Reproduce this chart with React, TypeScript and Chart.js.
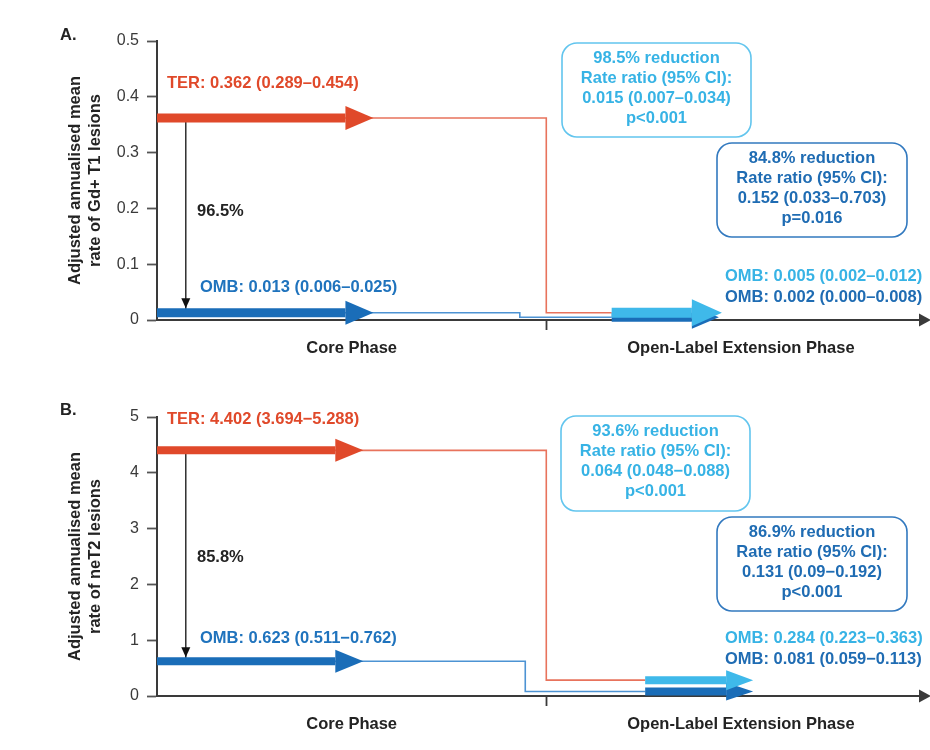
import React, { useEffect, useRef } from 'react';
import { Chart, registerables } from 'chart.js';

Chart.register(...registerables);

const FONT = '"Liberation Sans", Arial, Helvetica, sans-serif';

// ---------- shared x scale (abstract time: core phase | open-label extension) ----------
const X_MAX = 98;
const PHASE_BOUNDARY = 50;
const xTickValues = [25, PHASE_BOUNDARY, 75];
const xTickLabels = ['Core Phase', '', 'Open-Label Extension Phase'];

// ---------- Panel A: Gd+ T1 lesions ----------
const aYMax = 0.5;
const aYStep = 0.1;
const aTitle = ['Adjusted annualised mean', 'rate of Gd+ T1 lesions'];
const aCoreRates = [0.362, 0.013]; // [TER, OMB] core phase
const aOleRates = [0.013, 0.005]; // [TER→OMB, OMB→OMB] level as drawn in OLE
const aDropX = [PHASE_BOUNDARY, 46.6];
const aCoreArrowEnd = [24.2, 24.2];
const aOleArrow = [58.4, 68.7];
const aReductionX = 3.7;
const aCoreLabels = ['TER: 0.362 (0.289–0.454)', 'OMB: 0.013 (0.006–0.025)'];
const aReduction = '96.5%';
const aOleLabels = ['OMB: 0.005 (0.002–0.012)', 'OMB: 0.002 (0.000–0.008)'];
const aBoxLight = ['98.5% reduction', 'Rate ratio (95% CI):', '0.015 (0.007–0.034)', 'p<0.001'];
const aBoxDark = ['84.8% reduction', 'Rate ratio (95% CI):', '0.152 (0.033–0.703)', 'p=0.016'];

// ---------- Panel B: neT2 lesions ----------
const bYMax = 5;
const bYStep = 1;
const bTitle = ['Adjusted annualised mean', 'rate of neT2 lesions'];
const bCoreRates = [4.402, 0.623];
const bOleRates = [0.284, 0.081];
const bDropX = [PHASE_BOUNDARY, 47.3];
const bCoreArrowEnd = [22.9, 22.9];
const bOleArrow = [62.7, 73.1];
const bReductionX = 3.7;
const bCoreLabels = ['TER: 4.402 (3.694−5.288)', 'OMB: 0.623 (0.511−0.762)'];
const bReduction = '85.8%';
const bOleLabels = ['OMB: 0.284 (0.223−0.363)', 'OMB: 0.081 (0.059−0.113)'];
const bBoxLight = ['93.6% reduction', 'Rate ratio (95% CI):', '0.064 (0.048−0.088)', 'p<0.001'];
const bBoxDark = ['86.9% reduction', 'Rate ratio (95% CI):', '0.131 (0.09−0.192)', 'p<0.001'];

// ---------- colours ----------
const C = {
  ter: '#e0492a',
  terThin: '#e8735c',
  omb: '#1a6db8',
  ombThin: '#4d93d3',
  light: '#3fb9ea',
  lightText: '#37b3e5',
  darkText: '#1f6cb3',
  lightBorder: '#62c5ee',
  darkBorder: '#3279bf',
  axis: '#3a3a3a',
  text: '#232323',
};

type Panel = {
  letter: string;
  yMax: number;
  yStep: number;
  title: string[];
  core: number[];
  ole: number[];
  dropX: number[];
  coreEnd: number[];
  oleArrow: number[];
  redX: number;
  coreLabels: string[];
  reduction: string;
  oleLabels: string[];
  boxLight: string[];
  boxDark: string[];
  layout: any;
  style: any;
};

const panels: Panel[] = [
  {
    letter: 'A.', yMax: aYMax, yStep: aYStep, title: aTitle, core: aCoreRates, ole: aOleRates,
    dropX: aDropX, coreEnd: aCoreArrowEnd, oleArrow: aOleArrow, redX: aReductionX,
    coreLabels: aCoreLabels, reduction: aReduction, oleLabels: aOleLabels, boxLight: aBoxLight, boxDark: aBoxDark,
    layout: {
      letter: [60, 35], ter: [167, 83], omb: [200, 287], red: [197, 211],
      box1: [562, 43, 189, 94], box2: [717, 143, 190, 94], ole: [725, 276, 297],
    },
    style: { coreShaft: 9, coreHead: [28, 12], lightShaft: 10, lightHead: [30, 13.5], darkShaft: 9, darkHead: [27, 11.5] },
  },
  {
    letter: 'B.', yMax: bYMax, yStep: bYStep, title: bTitle, core: bCoreRates, ole: bOleRates,
    dropX: bDropX, coreEnd: bCoreArrowEnd, oleArrow: bOleArrow, redX: bReductionX,
    coreLabels: bCoreLabels, reduction: bReduction, oleLabels: bOleLabels, boxLight: bBoxLight, boxDark: bBoxDark,
    layout: {
      letter: [60, 34], ter: [167, 43], omb: [200, 262], red: [197, 181],
      box1: [561, 40, 189, 95], box2: [717, 141, 190, 94], ole: [725, 262, 283],
    },
    style: { coreShaft: 8, coreHead: [28, 11.5], lightShaft: 8, lightHead: [27, 10], darkShaft: 8, darkHead: [27, 9] },
  },
];

function buildDatasets(p: Panel): any[] {
  const [ter, omb] = p.core;
  const [terOle, ombOle] = p.ole;
  const s = p.style;
  const base = { pointRadius: 0, pointHoverRadius: 0, clip: false as any, fill: false, tension: 0 };
  return [
    {
      ...base, label: 'TER → OMB (thin)', order: 10, stepped: true, borderColor: C.terThin, borderWidth: 1.6,
      data: [{ x: 0, y: ter }, { x: p.dropX[0], y: terOle }, { x: p.oleArrow[0], y: terOle }],
    },
    {
      ...base, label: 'OMB → OMB (thin)', order: 9, stepped: true, borderColor: C.ombThin, borderWidth: 1.6,
      data: [{ x: 0, y: omb }, { x: p.dropX[1], y: ombOle }, { x: p.oleArrow[0], y: ombOle }],
    },
    {
      ...base, label: 'reduction', order: 8, borderColor: '#111', borderWidth: 1.3,
      data: [{ x: p.redX, y: ter }, { x: p.redX, y: omb }],
      arrowHead: { len: 10, half: 4.5, tipOffset: -s.coreShaft / 2 },
    },
    {
      ...base, label: 'TER core', order: 5, borderColor: C.ter, borderWidth: s.coreShaft,
      data: [{ x: 0, y: ter }, { x: p.coreEnd[0], y: ter }],
      arrowHead: { len: s.coreHead[0], half: s.coreHead[1], tipOffset: s.coreHead[0] },
    },
    {
      ...base, label: 'OMB core', order: 4, borderColor: C.omb, borderWidth: s.coreShaft,
      data: [{ x: 0, y: omb }, { x: p.coreEnd[1], y: omb }],
      arrowHead: { len: s.coreHead[0], half: s.coreHead[1], tipOffset: s.coreHead[0] },
    },
    {
      ...base, label: 'OMB → OMB OLE', order: 3, borderColor: C.omb, borderWidth: s.darkShaft,
      data: [{ x: p.oleArrow[0], y: ombOle }, { x: p.oleArrow[1], y: ombOle }],
      arrowHead: { len: s.darkHead[0], half: s.darkHead[1], tipOffset: s.darkHead[0] },
    },
    {
      ...base, label: 'TER → OMB OLE', order: 2, borderColor: C.light, borderWidth: s.lightShaft,
      data: [{ x: p.oleArrow[0], y: terOle }, { x: p.oleArrow[1], y: terOle }],
      arrowHead: { len: s.lightHead[0], half: s.lightHead[1], tipOffset: s.lightHead[0] },
    },
  ];
}

const arrowPlugin = {
  id: 'arrowHeads',
  afterDatasetDraw(chart: any, args: any) {
    const ds = chart.data.datasets[args.index];
    const h = ds && ds.arrowHead;
    if (!h) return;
    const pts = args.meta.data;
    if (!pts || pts.length < 2) return;
    const p = pts[pts.length - 1];
    const q = pts[pts.length - 2];
    const dx = p.x - q.x;
    const dy = p.y - q.y;
    const L = Math.hypot(dx, dy) || 1;
    const ux = dx / L;
    const uy = dy / L;
    const tx = p.x + ux * h.tipOffset;
    const ty = p.y + uy * h.tipOffset;
    const bx = tx - ux * h.len;
    const by = ty - uy * h.len;
    const nx = -uy;
    const ny = ux;
    const ctx = chart.ctx;
    ctx.save();
    ctx.fillStyle = ds.borderColor;
    ctx.beginPath();
    ctx.moveTo(tx, ty);
    ctx.lineTo(bx + nx * h.half, by + ny * h.half);
    ctx.lineTo(bx - nx * h.half, by - ny * h.half);
    ctx.closePath();
    ctx.fill();
    ctx.restore();
  },
};

function roundRect(ctx: CanvasRenderingContext2D, x: number, y: number, w: number, h: number, r: number) {
  ctx.beginPath();
  ctx.moveTo(x + r, y);
  ctx.lineTo(x + w - r, y);
  ctx.arcTo(x + w, y, x + w, y + r, r);
  ctx.lineTo(x + w, y + h - r);
  ctx.arcTo(x + w, y + h, x + w - r, y + h, r);
  ctx.lineTo(x + r, y + h);
  ctx.arcTo(x, y + h, x, y + h - r, r);
  ctx.lineTo(x, y + r);
  ctx.arcTo(x, y, x + r, y, r);
  ctx.closePath();
}

function makeOverlay(p: Panel) {
  return {
    id: 'overlay' + p.letter,
    afterDraw(chart: any) {
      const ctx: CanvasRenderingContext2D = chart.ctx;
      const ca = chart.chartArea;
      const L = p.layout;
      const bold = `bold 16.5px ${FONT}`;
      ctx.save();
      // x-axis arrowhead
      ctx.fillStyle = C.axis;
      ctx.beginPath();
      ctx.moveTo(ca.right + 11, ca.bottom);
      ctx.lineTo(ca.right - 1, ca.bottom - 6.5);
      ctx.lineTo(ca.right - 1, ca.bottom + 6.5);
      ctx.closePath();
      ctx.fill();

      ctx.textBaseline = 'middle';
      ctx.font = bold;
      // panel letter
      ctx.fillStyle = C.text;
      ctx.textAlign = 'left';
      ctx.fillText(p.letter, L.letter[0], L.letter[1]);
      // core labels
      ctx.fillStyle = C.ter;
      ctx.fillText(p.coreLabels[0], L.ter[0], L.ter[1]);
      ctx.fillStyle = '#1f73bd';
      ctx.fillText(p.coreLabels[1], L.omb[0], L.omb[1]);
      // reduction %
      ctx.fillStyle = C.text;
      ctx.fillText(p.reduction, L.red[0], L.red[1]);
      // OLE labels
      ctx.fillStyle = C.lightText;
      ctx.fillText(p.oleLabels[0], L.ole[0], L.ole[1]);
      ctx.fillStyle = C.darkText;
      ctx.fillText(p.oleLabels[1], L.ole[0], L.ole[2]);

      // boxes
      const boxes: [number[], string[], string, string][] = [
        [L.box1, p.boxLight, C.lightBorder, C.lightText],
        [L.box2, p.boxDark, C.darkBorder, C.darkText],
      ];
      for (const [b, lines, border, color] of boxes) {
        const [x, y, w, h] = b;
        roundRect(ctx, x, y, w, h, 15);
        ctx.fillStyle = '#ffffff';
        ctx.fill();
        ctx.lineWidth = 1.6;
        ctx.strokeStyle = border;
        ctx.stroke();
        ctx.fillStyle = color;
        ctx.textAlign = 'center';
        lines.forEach((t, i) => ctx.fillText(t, x + w / 2, y + 15.5 + i * 20));
      }
      ctx.restore();
    },
  };
}

function makeConfig(p: Panel): any {
  return {
    type: 'line',
    data: { datasets: buildDatasets(p) },
    options: {
      animation: false,
      responsive: false,
      events: [],
      layout: { padding: { left: 0, right: 10, top: 41, bottom: 0 } },
      plugins: { legend: { display: false }, tooltip: { enabled: false }, title: { display: false } },
      scales: {
        x: {
          type: 'linear',
          min: 0,
          max: X_MAX,
          afterFit: (s: any) => { s.height = 55; },
          afterBuildTicks: (s: any) => { s.ticks = xTickValues.map((v) => ({ value: v })); },
          ticks: {
            autoSkip: false,
            maxRotation: 0,
            padding: 9,
            color: C.text,
            font: { family: FONT, size: 16.5, weight: 'bold' },
            callback: (_v: any, i: number) => xTickLabels[i],
          },
          grid: {
            display: true,
            drawOnChartArea: false,
            drawTicks: true,
            tickLength: 10,
            tickWidth: 1.8,
            tickColor: (ctx: any) => (ctx.tick && ctx.tick.value === PHASE_BOUNDARY ? C.axis : 'rgba(0,0,0,0)'),
          },
          border: { display: true, color: C.axis, width: 2 },
        },
        y: {
          type: 'linear',
          min: 0,
          max: p.yMax,
          afterFit: (s: any) => { s.width = 157; },
          ticks: {
            stepSize: p.yStep,
            padding: 8,
            color: '#3a3a3a',
            font: { family: FONT, size: 16 },
            callback: (v: any) => (v === 0 ? '0' : p.yStep < 1 ? Number(v).toFixed(1) : String(Math.round(v))),
          },
          grid: {
            display: true,
            drawOnChartArea: false,
            drawTicks: true,
            tickLength: 10,
            tickWidth: 1.8,
            tickColor: '#555',
          },
          border: { display: true, color: C.axis, width: 2 },
          title: {
            display: true,
            text: p.title,
            color: C.text,
            font: { family: FONT, size: 16.5, weight: 'bold', lineHeight: 1.2 },
            padding: { top: 66, bottom: 0 },
          },
        },
      },
    },
    plugins: [arrowPlugin, makeOverlay(p)],
  };
}

function PanelChart({ panel, top }: { panel: Panel; top: number }) {
  const ref = useRef<HTMLCanvasElement | null>(null);
  useEffect(() => {
    if (!ref.current) return;
    const chart = new Chart(ref.current, makeConfig(panel));
    return () => chart.destroy();
  }, [panel]);
  return (
    <canvas
      ref={ref}
      width={930}
      height={375}
      style={{ position: 'absolute', left: 0, top, width: 930, height: 375 }}
    />
  );
}

export default function App() {
  return (
    <div style={{ position: 'fixed', left: 0, top: 0, width: 930, height: 750, background: '#fff' }}>
      <PanelChart panel={panels[0]} top={0} />
      <PanelChart panel={panels[1]} top={376} />
    </div>
  );
}
